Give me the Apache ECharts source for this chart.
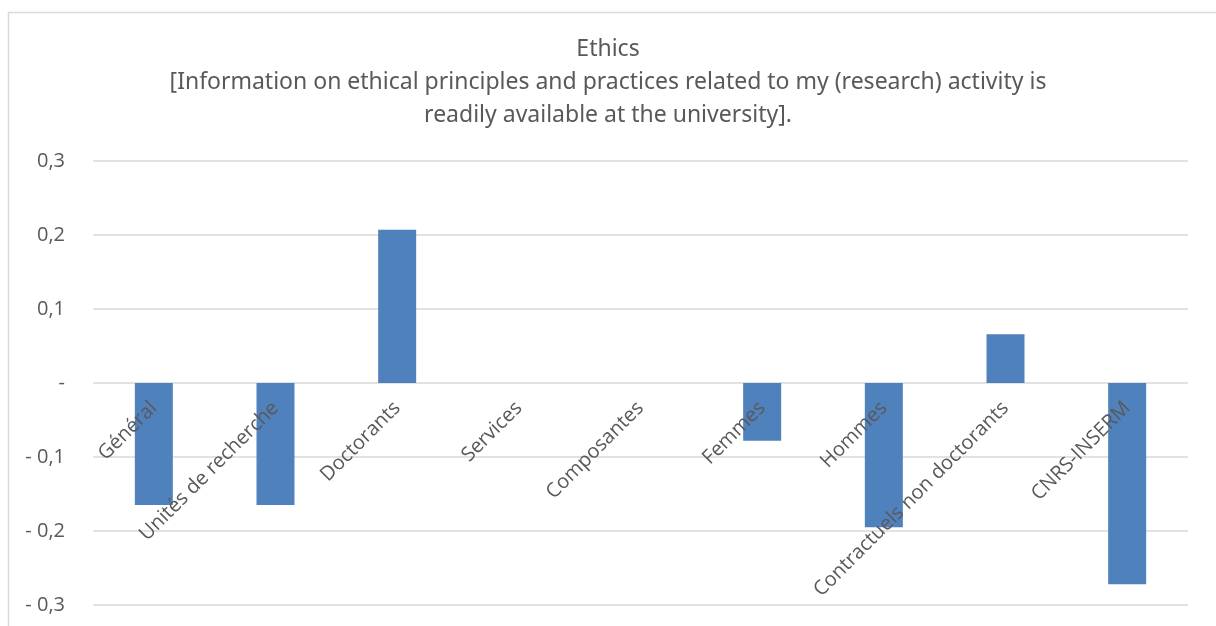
<!DOCTYPE html>
<html>
<head>
<meta charset="utf-8">
<script src="https://cdn.jsdelivr.net/npm/echarts@6/dist/echarts.min.js"></script>
<style>html,body{margin:0;padding:0;background:#fff}#c{width:1216px;height:626px}</style>
</head>
<body>
<div id="c"></div>
<script>
const categories = ["Général","Unités de recherche","Doctorants","Services","Composantes","Femmes","Hommes","Contractuels non doctorants","CNRS-INSERM"];
const values = [-0.165,-0.165,0.207,0,0,-0.078,-0.195,0.066,-0.272];
const titleText = "Ethics";
const subtitleText = "[Information on ethical principles and practices related to my (research) activity is\nreadily available at the university].";

const chart = echarts.init(document.getElementById('c'));
chart.setOption({
  animation: false,
  backgroundColor: '#fff',
  graphic: [{
    type: 'rect', left: 6, top: 10,
    shape: {width: 1260, height: 680},
    style: {fill: 'none', stroke: '#d9d9d9', lineWidth: 1.5}
  }],
  title: {
    text: titleText + "\n" + subtitleText,
    left: 'center', top: 28,
    textStyle: {fontFamily: 'Noto Sans', fontWeight: 'normal', fontSize: 23, color: '#595959', lineHeight: 33}
  },
  grid: {left: 93, right: 28, top: 161, bottom: 21, outerBoundsMode: 'none', containLabel: false},
  xAxis: {
    type: 'category', data: categories, offset: -222, z: 10,
    axisLine: {show: false, onZero: false},
    axisTick: {show: false},
    axisLabel: {rotate: 45, interval: 0, margin: 22, color: '#595959', fontFamily: 'Open Sans', fontSize: 20}
  },
  yAxis: {
    type: 'value', min: -0.3, max: 0.3, interval: 0.1,
    axisLine: {show: false}, axisTick: {show: false},
    splitLine: {lineStyle: {color: '#d9d9d9', width: 1.5}},
    axisLabel: {
      margin: 28, color: '#595959', fontFamily: 'Open Sans', fontSize: 20,
      formatter: function (v) {
        const r = Math.round(v * 10) / 10;
        if (r === 0) return '-';
        const s = Math.abs(r).toFixed(1).replace('.', ',');
        return r < 0 ? '- ' + s : s;
      }
    }
  },
  series: [{
    type: 'bar', data: values, barWidth: 38, z: 2,
    itemStyle: {color: '#4f81bd'}
  }]
});
</script>
</body>
</html>
